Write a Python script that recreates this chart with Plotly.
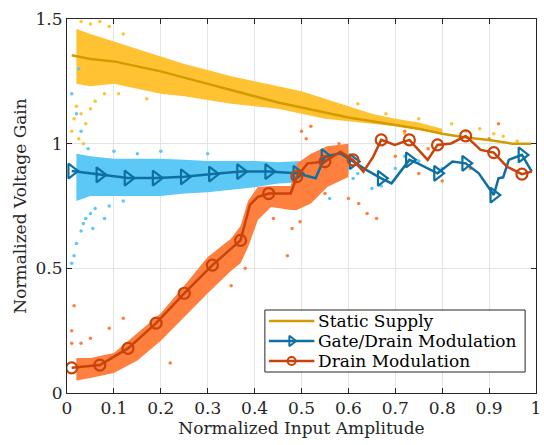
import plotly.graph_objects as go

# ---- measured gain curves ----
static_x = [0.01, 0.05, 0.10, 0.15, 0.20, 0.25, 0.30, 0.35, 0.40, 0.45, 0.50,
            0.55, 0.60, 0.65, 0.70, 0.75, 0.80, 0.85, 0.90, 0.95, 0.99]
static_y = [1.355, 1.34, 1.33, 1.31, 1.29, 1.265, 1.24, 1.215, 1.19, 1.165, 1.145,
            1.125, 1.105, 1.09, 1.075, 1.06, 1.04, 1.025, 1.015, 1.0, 1.0]

gd_x = [0.01, 0.07, 0.13, 0.19, 0.25, 0.31, 0.37, 0.43, 0.49, 0.53, 0.55, 0.583,
        0.61, 0.639, 0.67, 0.692, 0.73, 0.748, 0.79, 0.822, 0.85, 0.878, 0.91,
        0.92, 0.93, 0.942, 0.97, 0.991]
gd_y = [0.89, 0.875, 0.862, 0.862, 0.867, 0.878, 0.888, 0.888, 0.881, 0.861, 0.948, 0.961,
        0.928, 0.894, 0.861, 0.841, 0.935, 0.921, 0.881, 0.928, 0.921, 0.881, 0.794,
        0.861, 0.865, 0.935, 0.955, 0.888]
gd_marks = [0, 1, 2, 3, 4, 5, 6, 7, 8, 10, 12, 14, 16, 18, 20, 22, 26]

dm_x = [0.01, 0.07, 0.13, 0.19, 0.25, 0.31, 0.37, 0.39, 0.407, 0.43, 0.477, 0.49,
        0.513, 0.55, 0.583, 0.61, 0.632, 0.653, 0.67, 0.699, 0.73, 0.769, 0.79,
        0.819, 0.85, 0.882, 0.91, 0.938, 0.97, 0.991]
dm_y = [0.101, 0.112, 0.179, 0.28, 0.40, 0.513, 0.612, 0.754, 0.787, 0.80, 0.80, 0.868,
        0.921, 0.928, 0.968, 0.935, 0.888, 0.948, 1.015, 0.995, 1.015, 0.935, 0.995,
        1.001, 1.031, 0.975, 0.964, 0.908, 0.878, 0.888]
dm_marks = [0, 1, 2, 3, 4, 5, 6, 9, 11, 13, 15, 18, 20, 22, 24, 26, 28]

# ---- spread of the raw samples (dense core of each cloud) ----
ss_band_x = [0.02, 0.05, 0.10, 0.15, 0.20, 0.25, 0.30, 0.35, 0.40, 0.45, 0.50,
             0.55, 0.60, 0.65, 0.70, 0.75, 0.80]
ss_band_hi = [1.46, 1.44, 1.41, 1.38, 1.35, 1.32, 1.295, 1.27, 1.25, 1.23, 1.21,
              1.18, 1.15, 1.12, 1.10, 1.085, 1.06]
ss_band_lo = [1.24, 1.23, 1.24, 1.22, 1.20, 1.19, 1.175, 1.16, 1.15, 1.14, 1.12,
              1.10, 1.09, 1.08, 1.07, 1.055, 1.04]

gd_band_x = [0.02, 0.05, 0.10, 0.15, 0.20, 0.25, 0.30, 0.35, 0.40, 0.45, 0.50,
             0.54, 0.58, 0.60]
gd_band_hi = [0.96, 0.95, 0.94, 0.94, 0.94, 0.935, 0.93, 0.93, 0.93, 0.925, 0.93,
              0.96, 0.99, 0.97]
gd_band_lo = [0.77, 0.79, 0.79, 0.79, 0.79, 0.80, 0.805, 0.815, 0.825, 0.84, 0.845,
              0.82, 0.85, 0.88]

dm_band_x = [0.02, 0.05, 0.10, 0.15, 0.20, 0.25, 0.30, 0.35, 0.37, 0.386, 0.407,
             0.435, 0.477, 0.49, 0.52, 0.555, 0.60]
dm_band_hi = [0.14, 0.14, 0.16, 0.24, 0.32, 0.43, 0.545, 0.62, 0.67, 0.77, 0.826,
              0.83, 0.83, 0.92, 0.96, 0.99, 1.0]
dm_band_lo = [0.05, 0.06, 0.08, 0.13, 0.21, 0.305, 0.40, 0.49, 0.52, 0.585, 0.694,
              0.746, 0.734, 0.734, 0.76, 0.826, 0.866]

# ---- isolated samples outside the dense cores ----
ss_out_x = [0.01, 0.015, 0.02, 0.03, 0.04, 0.025, 0.06, 0.08, 0.035, 0.05, 0.62,
            0.68, 0.75, 0.82, 0.88, 0.93, 0.96, 0.72, 0.85, 0.91, 0.03, 0.05,
            0.07, 0.09, 0.12, 0.04, 0.11, 0.17]
ss_out_y = [1.05, 1.10, 1.15, 1.12, 1.08, 1.02, 1.17, 1.20, 1.00, 1.14, 1.16,
            1.12, 1.10, 1.08, 1.06, 1.03, 1.01, 1.04, 1.05, 1.04, 1.49, 1.48,
            1.49, 1.47, 1.44, 1.35, 1.20, 1.18]

gd_out_x = [0.01, 0.015, 0.02, 0.03, 0.035, 0.04, 0.05, 0.06, 0.01, 0.02, 0.03,
            0.045, 0.10, 0.15, 0.08, 0.60, 0.62, 0.65, 0.67, 0.70, 0.72, 0.75,
            0.80, 0.56, 0.61, 0.025, 0.055, 0.09, 0.12, 0.2, 0.3]
gd_out_y = [0.52, 0.55, 0.60, 0.65, 0.68, 0.70, 0.72, 0.74, 1.20, 1.12, 1.05,
            0.98, 0.97, 0.96, 0.70, 0.95, 0.88, 0.82, 0.83, 0.90, 0.95, 0.93,
            0.90, 0.78, 0.86, 1.30, 0.66, 0.75, 0.77, 0.97, 0.96]

dm_out_x = [0.01, 0.01, 0.015, 0.03, 0.05, 0.09, 0.12, 0.22, 0.38, 0.35, 0.50,
            0.51, 0.52, 0.48, 0.47, 0.44, 0.497, 0.60, 0.622, 0.66, 0.70, 0.72,
            0.77, 0.80, 0.86, 0.90, 0.92, 0.58, 0.55, 0.64, 0.75]
dm_out_y = [0.20, 0.25, 0.35, 0.20, 0.22, 0.26, 0.30, 0.12, 0.50, 0.43, 1.05,
            1.02, 1.07, 0.66, 0.55, 0.70, 0.687, 0.78, 0.76, 0.70, 0.95, 1.05,
            0.98, 0.85, 0.90, 1.02, 1.08, 1.00, 0.80, 0.72, 0.88]

x_ticks = [0, 0.1, 0.2, 0.3, 0.4, 0.5, 0.6, 0.7, 0.8, 0.9, 1]
x_tick_text = ["0", "0.1", "0.2", "0.3", "0.4", "0.5", "0.6", "0.7", "0.8", "0.9", "1"]
y_ticks = [0, 0.5, 1, 1.5]
y_tick_text = ["0", "0.5", "1", "1.5"]

legend_names = ["Static Supply", "Gate/Drain Modulation", "Drain Modulation"]

SERIF = "DejaVu Serif"
INK = "#262626"
C_SS_LINE, C_SS_PTS = "#D29B00", "#FFC233"
C_GD_LINE, C_GD_PTS = "#0E70A2", "#5CC8F5"
C_DM_LINE, C_DM_PTS = "#C8430A", "#FF7F3F"

fig = go.Figure()


def add_cloud(bx, lo, hi, ox, oy, color):
    fig.add_trace(go.Scatter(
        x=bx + bx[::-1], y=hi + lo[::-1], mode="lines", fill="toself",
        fillcolor=color, line=dict(width=0, color=color),
        hoverinfo="skip", showlegend=False))
    fig.add_trace(go.Scatter(
        x=ox, y=oy, mode="markers", marker=dict(size=3.5, color=color),
        hoverinfo="skip", showlegend=False))


add_cloud(ss_band_x, ss_band_lo, ss_band_hi, ss_out_x, ss_out_y, C_SS_PTS)
add_cloud(gd_band_x, gd_band_lo, gd_band_hi, gd_out_x, gd_out_y, C_GD_PTS)
add_cloud(dm_band_x, dm_band_lo, dm_band_hi, dm_out_x, dm_out_y, C_DM_PTS)

GD_MARK = dict(symbol="triangle-right-open", color=C_GD_LINE)
DM_MARK = dict(symbol="circle-open", color=C_DM_LINE)

# fitted curves
fig.add_trace(go.Scatter(x=static_x, y=static_y, mode="lines",
                         line=dict(color=C_SS_LINE, width=2.5), showlegend=False))

fig.add_trace(go.Scatter(x=gd_x, y=gd_y, mode="lines",
                         line=dict(color=C_GD_LINE, width=2.5), showlegend=False))
fig.add_trace(go.Scatter(x=[gd_x[i] for i in gd_marks], y=[gd_y[i] for i in gd_marks],
                         mode="markers",
                         marker=dict(size=13, line=dict(width=2.2, color=C_GD_LINE), **GD_MARK),
                         showlegend=False))

fig.add_trace(go.Scatter(x=dm_x, y=dm_y, mode="lines",
                         line=dict(color=C_DM_LINE, width=2.5), showlegend=False))
fig.add_trace(go.Scatter(x=[dm_x[i] for i in dm_marks], y=[dm_y[i] for i in dm_marks],
                         mode="markers",
                         marker=dict(size=11, line=dict(width=2.2, color=C_DM_LINE), **DM_MARK),
                         showlegend=False))

# ---- legend box, drawn on a pixel-scaled overlay axis pair ----
LX0, LX1, LY0, LY1 = 267, 530, 310, 372
ROWS = [321, 341, 361]
SAMPLE_X0, SAMPLE_X1, TEXT_X = 271, 317, 320
fig.add_trace(go.Scatter(x=[LX0, LX1, LX1, LX0, LX0], y=[LY0, LY0, LY1, LY1, LY0],
                         mode="lines", fill="toself", fillcolor="white",
                         line=dict(color=INK, width=1), xaxis="x2", yaxis="y2",
                         hoverinfo="skip", showlegend=False))
legend_styles = [
    (C_SS_LINE, None),
    (C_GD_LINE, dict(size=9, line=dict(width=2, color=C_GD_LINE), **GD_MARK)),
    (C_DM_LINE, dict(size=8, line=dict(width=2, color=C_DM_LINE), **DM_MARK)),
]
for row_y, name, (col, mk) in zip(ROWS, legend_names, legend_styles):
    fig.add_trace(go.Scatter(x=[SAMPLE_X0, SAMPLE_X1], y=[row_y, row_y], mode="lines",
                             line=dict(color=col, width=2.5), xaxis="x2", yaxis="y2",
                             hoverinfo="skip", showlegend=False))
    if mk is not None:
        fig.add_trace(go.Scatter(x=[(SAMPLE_X0 + SAMPLE_X1) / 2], y=[row_y], mode="markers",
                                 marker=mk, xaxis="x2", yaxis="y2",
                                 hoverinfo="skip", showlegend=False))
    fig.add_annotation(x=TEXT_X, y=row_y, xref="x2", yref="y2", text=name,
                       showarrow=False, xanchor="left", yanchor="middle", borderpad=0,
                       font=dict(family=SERIF, size=17, color="black"))

axis_common = dict(
    showline=True, linecolor=INK, linewidth=1, mirror="ticks",
    ticks="inside", ticklen=5, tickcolor=INK,
    showgrid=True, gridcolor="#E3E3E3", gridwidth=1, zeroline=False,
    tickfont=dict(family=SERIF, size=17, color=INK),
)

fig.update_layout(
    width=544, height=445,
    margin=dict(l=67, r=3, t=19, b=52),
    paper_bgcolor="white", plot_bgcolor="white",
    font=dict(family=SERIF, size=17, color=INK),
    xaxis=dict(range=[0, 1], tickvals=x_ticks, ticktext=x_tick_text,
               ticklabeloverflow="allow",
               title=dict(text="Normalized Input Amplitude", standoff=0,
                          font=dict(family=SERIF, size=17)),
               **axis_common),
    yaxis=dict(range=[0, 1.5], tickvals=y_ticks, ticktext=y_tick_text,
               title=dict(text="Normalized Voltage Gain", standoff=4,
                          font=dict(family=SERIF, size=17)),
               **axis_common),
    xaxis2=dict(range=[67, 541], overlaying="x", visible=False, fixedrange=True),
    yaxis2=dict(range=[393, 19], overlaying="y", visible=False, fixedrange=True),
    showlegend=False,
)

fig.write_html("out.html")
